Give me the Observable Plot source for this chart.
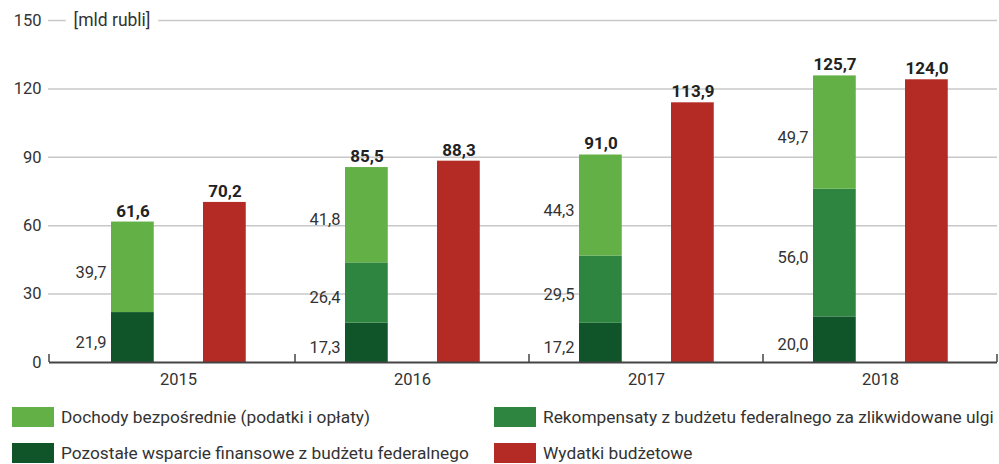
<!DOCTYPE html>
<html>
<head>
<meta charset="utf-8">
<script src="https://cdn.jsdelivr.net/npm/d3@7"></script>
<script src="https://cdn.jsdelivr.net/npm/@observablehq/plot@0.6"></script>
<style>
  body { margin: 0; background: #fff; font-family: Roboto, "Noto Sans", sans-serif; color: #333; }
  #chart { width: 999px; }
  .legend { position: relative; width: 999px; height: 72px; margin-top: 15px; }
  .item { position: absolute; display: flex; align-items: center; font-size: 17.3px; color: #333; white-space: nowrap; height: 20px; }
  .sw { width: 42px; height: 20px; margin-right: 7px; flex: none; }
</style>
</head>
<body>
<div id="chart"></div>
<div class="legend" id="legend"></div>
<script>
const years = ["2015", "2016", "2017", "2018"];
const pozostale = [21.9, 17.3, 17.2, 20.0];
const rekompensaty = [0, 26.4, 29.5, 56.0];
const dochody = [39.7, 41.8, 44.3, 49.7];
const wydatki = [70.2, 88.3, 113.9, 124.0];
const totals = [61.6, 85.5, 91.0, 125.7];
const yTicks = [0, 30, 60, 90, 120, 150];
const unitLabel = "[mld rubli]";

const seriesNames = [
  "Pozostałe wsparcie finansowe z budżetu federalnego",
  "Rekompensaty z budżetu federalnego za zlikwidowane ulgi",
  "Dochody bezpośrednie (podatki i opłaty)",
  "Wydatki budżetowe"
];
const colors = ["#10542a", "#2e8540", "#62b046", "#b42b25"];

const fmt = v => v.toFixed(1).replace(".", ",");

const stackRows = [];
years.forEach((y, i) => {
  stackRows.push({year: y, series: seriesNames[0], value: pozostale[i]});
  stackRows.push({year: y, series: seriesNames[1], value: rekompensaty[i]});
  stackRows.push({year: y, series: seriesNames[2], value: dochody[i]});
});
const redRows = years.map((y, i) => ({year: y, value: wydatki[i]}));
const totalRows = years.map((y, i) => ({year: y, value: totals[i]}));

const boundaryTicks = (index, scales, values, dimensions) => {
  const g = d3.create("svg:g");
  const step = scales.x(years[1]) - scales.x(years[0]);
  const xs = years.map(y => scales.x(y)).slice(1);
  xs.push(scales.x(years[years.length - 1]) + step);
  xs.push(dimensions.marginLeft - 11);
  const y0 = scales.y(0);
  xs.forEach(x => {
    g.append("line").attr("x1", x).attr("x2", x).attr("y1", y0).attr("y2", y0 - 8)
      .attr("stroke", "#444").attr("stroke-width", 1.5);
  });
  return g.node();
};

const plot = Plot.plot({
  width: 999,
  height: 392,
  marginLeft: 60,
  marginRight: 2,
  marginTop: 20,
  marginBottom: 30,
  style: {fontFamily: "Roboto, sans-serif", fontSize: "16px", color: "#333"},
  x: {domain: years, padding: 0},
  y: {domain: [0, 150]},
  color: {domain: seriesNames.slice(0, 3), range: colors.slice(0, 3)},
  marks: [
    Plot.ruleY(yTicks.filter(t => t > 0), {y: d => d, stroke: "#c8c8c8", strokeWidth: 1.5, insetLeft: -12}),
    Plot.text([unitLabel], {y: () => 150, frameAnchor: "left", text: d => d, dx: 13, textAnchor: "start",
      stroke: "white", strokeWidth: 18, fill: "#333", fontSize: 17.5}),
    Plot.barY(stackRows, Plot.stackY({
      x: "year", y: "value", fill: "series", order: seriesNames.slice(0, 3),
      insetLeft: 50, insetRight: 141.25
    })),
    Plot.barY(redRows, {x: "year", y: "value", fill: colors[3], insetLeft: 142, insetRight: 49.25}),
    Plot.text(stackRows.filter(d => d.value > 0), Plot.stackY({
      x: "year", y: "value", z: "series", order: seriesNames.slice(0, 3),
      text: d => fmt(d.value), dx: -72, dy: 5, textAnchor: "end", fill: "#333", fontSize: 16.5
    })),
    Plot.text(totalRows, {x: "year", y: "value", text: d => fmt(d.value), dx: -45.5, dy: -11,
      fontWeight: "bold", fontSize: 17, fill: "#222"}),
    Plot.text(redRows, {x: "year", y: "value", text: d => fmt(d.value), dx: 46.5, dy: -11,
      fontWeight: "bold", fontSize: 17, fill: "#222"}),
    Plot.ruleY([0], {stroke: "#444", strokeWidth: 2, insetLeft: -11}),
    boundaryTicks,
    Plot.axisX({tickSize: 0, tickPadding: 11, fontSize: 16.5, label: null}),
    Plot.axisY({ticks: yTicks, tickSize: 0, tickPadding: 19, fontSize: 16.5, label: null,
      tickFormat: d => String(d)})
  ]
});
document.getElementById("chart").appendChild(plot);

const legend = document.getElementById("legend");
const legendOrder = [
  {name: seriesNames[2], color: colors[2], left: 12, top: 0},
  {name: seriesNames[1], color: colors[1], left: 494, top: 0},
  {name: seriesNames[0], color: colors[0], left: 12, top: 36},
  {name: seriesNames[3], color: colors[3], left: 494, top: 36}
];
legendOrder.forEach(it => {
  const d = document.createElement("div");
  d.className = "item";
  d.style.left = it.left + "px";
  d.style.top = it.top + "px";
  const s = document.createElement("span");
  s.className = "sw";
  s.style.background = it.color;
  const t = document.createElement("span");
  t.textContent = it.name;
  d.appendChild(s);
  d.appendChild(t);
  legend.appendChild(d);
});
</script>
</body>
</html>
